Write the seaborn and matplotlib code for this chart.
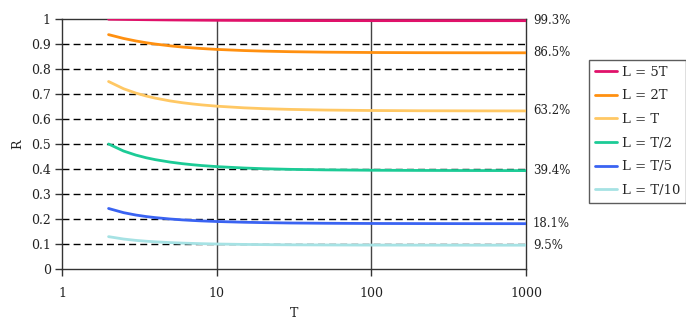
import numpy as np
import pandas as pd
import matplotlib
matplotlib.use("Agg")
import matplotlib.pyplot as plt
import seaborn as sns
from matplotlib.lines import Line2D

T_vals = [2, 2.5, 3, 3.5, 4, 5, 6, 7, 8, 10, 15, 20, 30, 50, 100, 200, 500, 1000]
r_5T = [0.9990, 0.9983, 0.9977, 0.9972, 0.9968, 0.9962, 0.9958, 0.9955, 0.9952, 0.9948, 0.9943, 0.9941, 0.9938, 0.9936, 0.9934, 0.9934, 0.9933, 0.9933]
r_2T = [0.9375, 0.9222, 0.9122, 0.9051, 0.8999, 0.8926, 0.8878, 0.8845, 0.8819, 0.8784, 0.8738, 0.8715, 0.8692, 0.8674, 0.8660, 0.8653, 0.8649, 0.8648]
r_T = [0.7500, 0.7211, 0.7037, 0.6920, 0.6836, 0.6723, 0.6651, 0.6601, 0.6564, 0.6513, 0.6447, 0.6415, 0.6384, 0.6358, 0.6340, 0.6330, 0.6325, 0.6323]
r_T2 = [0.5000, 0.4719, 0.4557, 0.4450, 0.4375, 0.4276, 0.4213, 0.4170, 0.4138, 0.4095, 0.4040, 0.4012, 0.3986, 0.3965, 0.3950, 0.3943, 0.3938, 0.3936]
r_T5 = [0.2421, 0.2254, 0.2159, 0.2098, 0.2056, 0.2000, 0.1965, 0.1941, 0.1923, 0.1900, 0.1870, 0.1855, 0.1840, 0.1829, 0.1821, 0.1817, 0.1814, 0.1813]
r_T10 = [0.1294, 0.1199, 0.1145, 0.1111, 0.1087, 0.1056, 0.1036, 0.1023, 0.1013, 0.1000, 0.0983, 0.0975, 0.0967, 0.0961, 0.0956, 0.0954, 0.0952, 0.0952]

series_names = ["L = 5T", "L = 2T", "L = T", "L = T/2", "L = T/5", "L = T/10"]
series_vals = [r_5T, r_2T, r_T, r_T2, r_T5, r_T10]
colors = ["#E0126A", "#FF9010", "#FFC864", "#1CCB96", "#3A63F2", "#A6E2E4"]
end_labels = ["99.3%", "86.5%", "63.2%", "39.4%", "18.1%", "9.5%"]
end_values = [0.993, 0.865, 0.632, 0.394, 0.181, 0.095]

rows = []
for name, vals in zip(series_names, series_vals):
    for t, v in zip(T_vals, vals):
        rows.append({"T": t, "R": v, "series": name})
df = pd.DataFrame(rows)

sns.set_style("white")
plt.rcParams["font.family"] = ["DejaVu Serif"]

fig = plt.figure(figsize=(6.86, 3.21), dpi=100)
ax = fig.add_axes([62/686, 1-269/321, (526-62)/686, (269-19)/321])

ax.set_xscale("log")
sns.lineplot(data=df, x="T", y="R", hue="series", hue_order=series_names,
             palette=colors, linewidth=2.0, ax=ax, legend=False, zorder=3)

ax.set_xlim(1, 1000)
ax.set_ylim(0, 1)
ax.set_yticks(np.arange(0, 1.01, 0.1))
ax.set_yticklabels(["0", "0.1", "0.2", "0.3", "0.4", "0.5", "0.6", "0.7", "0.8", "0.9", "1"])
ax.set_xticks([1, 10, 100, 1000])
ax.set_xticklabels(["1", "10", "100", "1000"])

for y in np.arange(0.1, 0.95, 0.1):
    ax.axhline(y, color="black", linestyle=(0, (5, 3)), linewidth=1.0, zorder=1)
for x in [10, 100]:
    ax.axvline(x, color="#444444", linewidth=1.0, zorder=1)

for s in ax.spines.values():
    s.set_color("#333333")
    s.set_linewidth(1.0)

ax.tick_params(axis="both", which="major", direction="out", length=5, width=1,
               color="#333333", labelsize=9, labelcolor="#222222", pad=3)
ax.tick_params(axis="x", which="minor", direction="out", length=4, width=1, color="#333333")
ax.tick_params(axis="x", which="major", pad=8)
ax.tick_params(left=True, bottom=True)

ax.set_xlabel("T", fontsize=9, color="#222222", labelpad=5)
ax.set_ylabel("R", fontsize=9, color="#222222", labelpad=5)

for lab, v in zip(end_labels, end_values):
    ax.annotate(lab, xy=(1000, v), xytext=(5, 0), textcoords="offset points",
                va="center", ha="left", fontsize=8.5, color="#222222",
                annotation_clip=False)

handles = [Line2D([0], [0], color=c, linewidth=2) for c in colors]
leg = fig.legend(handles, series_names, loc="upper left",
                 bbox_to_anchor=(589/686, 1-60/321), fontsize=9.5,
                 frameon=True, fancybox=False, edgecolor="#333333",
                 handlelength=1.7, handletextpad=0.35, labelspacing=0.8,
                 borderpad=0.45, borderaxespad=0)
leg.get_frame().set_linewidth(1.0)

fig.savefig("out.png", dpi=100)
